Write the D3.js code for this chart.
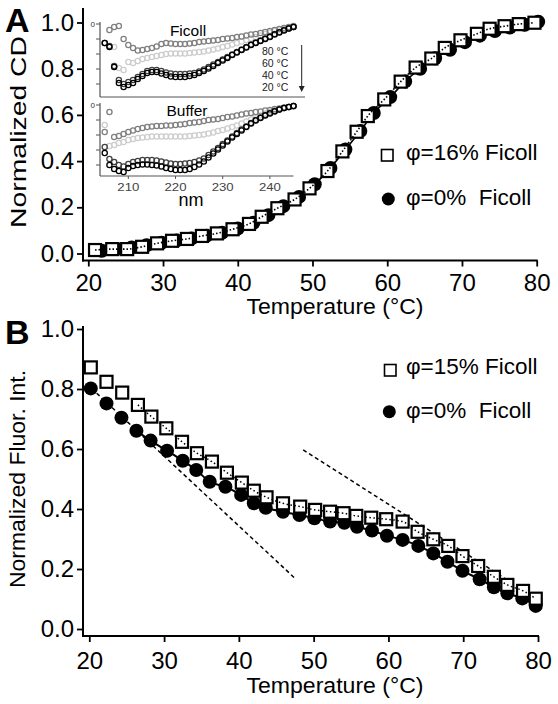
<!DOCTYPE html>
<html><head><meta charset="utf-8">
<script src="https://cdn.jsdelivr.net/npm/d3@7"></script>
<style>
body{margin:0;background:#fff;}
svg text{font-family:"Liberation Sans",Arial,Helvetica,sans-serif;}
</style></head><body>
<svg id="c" width="558" height="704"></svg>
<script>
// ---------------- DATA ----------------
// Panel A: normalized CD vs temperature
const A_T_sq = [20.9,23.2,25.2,27.2,29.2,31.2,33.2,35.2,37.2,39.3,41.5,43.2,45.3,47.6,49.6,52.0,54.0,55.9,57.4,59.6,61.8,63.8,65.9,67.7,69.8,72.0,73.7,75.7,77.6,79.7];
const A_sq   = [0.015,0.019,0.019,0.029,0.044,0.055,0.063,0.076,0.087,0.105,0.128,0.159,0.196,0.234,0.282,0.357,0.442,0.527,0.595,0.667,0.744,0.805,0.844,0.890,0.923,0.951,0.973,0.984,0.993,0.999];
const A_T_ci = [21.8,23.8,25.8,27.8,29.8,31.8,33.8,35.8,37.9,40.0,42.1,44.1,46.1,48.2,50.3,52.4,54.4,56.4,58.2,60.4,62.4,64.4,66.4,68.4,70.4,72.4,74.4,76.4,78.4,80.2];
const A_ci   = [0.012,0.020,0.026,0.036,0.046,0.056,0.065,0.077,0.090,0.108,0.133,0.166,0.205,0.245,0.300,0.370,0.450,0.530,0.608,0.677,0.745,0.800,0.845,0.882,0.915,0.943,0.963,0.978,0.990,1.003];
const A_legend = ["\u03c6=16% Ficoll", "\u03c6=0%  Ficoll"];

// Panel B: normalized fluorescence intensity vs temperature
const B_T_sq = [20.2,22.3,24.4,26.5,28.3,30.3,32.4,34.4,36.4,38.4,40.4,42.0,43.7,45.9,48.2,50.2,52.2,54.0,55.7,57.7,59.7,61.9,63.9,66.0,68.0,69.9,72.0,74.1,75.9,78.0,79.7];
const B_sq   = [0.872,0.824,0.788,0.747,0.708,0.669,0.624,0.586,0.558,0.521,0.488,0.461,0.439,0.419,0.408,0.397,0.391,0.386,0.377,0.371,0.366,0.358,0.324,0.299,0.277,0.243,0.210,0.174,0.147,0.127,0.101];
const B_T_ci = [20.2,22.3,24.3,26.3,28.2,30.4,32.5,34.3,36.1,38.2,40.3,42.0,43.6,45.9,48.1,50.1,52.2,54.1,55.8,57.8,59.8,61.9,64.0,66.0,67.9,69.9,72.2,74.1,75.9,77.9,79.7];
const B_ci   = [0.802,0.752,0.704,0.661,0.628,0.594,0.561,0.530,0.491,0.474,0.447,0.419,0.404,0.391,0.380,0.369,0.358,0.354,0.341,0.328,0.311,0.297,0.277,0.252,0.224,0.194,0.166,0.139,0.119,0.102,0.077];
const B_lowFit  = [[20.3,0.802],[47.5,0.169]];
const B_highFit = [[48.6,0.597],[77.0,0.146]];
const B_legend = ["\u03c6=15% Ficoll", "\u03c6=0%  Ficoll"];

const tempTicks = [20,30,40,50,60,70,80];
const normTicks = [0.0,0.2,0.4,0.6,0.8,1.0];

// Inset: CD spectra (arbitrary units, 0 at top)
const nm = [205,206,207,208,209,210,211,212,213,214,215,216,217,218,219,220,221,222,223,224,225,226,227,228,229,230,231,232,233,234,235,236,237,238,239,240,241,242,243,244,245];
const insetTemps = ["80 \u00b0C","60 \u00b0C","40 \u00b0C","20 \u00b0C"];
const F80 = [null,-6,-3,-2,-15,-21,-24,-26.5,-26,-25,-24,-22.5,-20,-19,-19.5,-20,-20,-20,-19.5,-19,-18,-17.5,-17,-16.5,-16,-15,-14.5,-14,-13,-12.5,-11.5,-10.5,-10,-9,-8,-7,-6,-5,-4,-3,-2];
const F60 = [null,null,-23,-44,-46,-38,-39,-37,-35,-34,-33,-32,-31,-30,-29.5,-29.5,-29.5,-29.5,-29,-28.5,-28,-27.5,-26.5,-25.5,-24.5,-23,-22,-20.5,-19,-17.5,-16,-14.5,-13,-11.5,-10,-8.5,-7,-5.5,-4.5,-3.5,-3];
const F40 = [-19,-22,-42,-56,-60,-58,-56,-53,-50,-47,-46,-46,-47,-48.5,-49.5,-50,-50,-50,-49.5,-49,-47.5,-45.5,-43,-40.5,-38,-35.5,-33,-30.5,-28,-25.5,-23,-20.5,-18.5,-16.5,-14.5,-12.5,-10,-8,-6,-4.5,-3];
const F20 = [-19,-23,-43,-59,-63,-61,-59,-55,-52,-49,-48,-48,-49.5,-51,-52.5,-53,-53,-53,-52,-51,-49,-47,-44.5,-42,-39,-36.5,-34,-31,-28.5,-26,-23.5,-21,-19,-17,-15,-13,-10.5,-8.5,-6.5,-4.5,-3];
const Bu80 = [-27,-7,-32,-31,-29,-27,-25.5,-24,-23,-22,-21.5,-21,-21,-20.5,-20.5,-20,-19.5,-19,-18,-17.5,-17,-16,-15,-14.5,-14,-13,-12,-11.5,-10.5,-9.5,-8.5,-8,-7,-6.5,-5.5,-5,-4,-3.5,-2.5,-2,-1];
const Bu60 = [-20,-41,-40,-38,-37,-35,-34,-33,-32.5,-32,-31.5,-31.5,-31.5,-31.5,-31.5,-31.5,-31.5,-31.5,-31,-30.5,-30,-29.5,-28.5,-27.5,-26,-25,-23.5,-22,-20.5,-18.5,-16.5,-14.5,-12.5,-10.5,-8.5,-6.5,-5,-4,-3,-2,-1.5];
const Bu40 = [-42,-54,-57,-60,-61.5,-59,-57,-56,-55,-55,-55,-55.5,-56.5,-57.5,-58.5,-59,-59,-58.5,-58,-57,-55.5,-53.5,-50,-46.5,-43,-39,-35.5,-31.5,-28,-24.5,-21.5,-18,-15,-12.5,-10,-8,-6,-4.5,-3,-2,-1];
const Bu20 = [-48,-60,-64,-66,-67,-63,-61,-60,-59.5,-59.5,-60,-60.5,-61.5,-63,-64,-65,-65,-65,-64,-62,-59.5,-56.5,-52.5,-48.5,-44.5,-40.5,-36.5,-32.5,-29,-25.5,-22,-18.5,-15.5,-13,-10.5,-8.5,-6.5,-4.5,-3,-2,-1];
const insetXTicks = [210,220,230,240];
const insetYTicks = [0,-15,-30,-45,-60];

// ---------------- DRAW ----------------
const svg = d3.select("#c");
const FONT_TICK = 24;
const SQ = 12, CR = 7;

function pairs(xs, ys){ return xs.map((x,i)=>[x, ys[i]]); }

function panel(opt){
  const g = svg.append("g");
  const x = d3.scaleLinear([20,80], opt.xr);
  const y = d3.scaleLinear([0,1], opt.yr);
  const ya = d3.axisLeft(y).tickValues(normTicks).tickSize(6).tickPadding(3).tickFormat(d3.format(".1f"));
  const yg = g.append("g").attr("transform",`translate(${opt.ax},0)`).call(ya);
  const xa = d3.axisBottom(x).tickValues(tempTicks).tickSize(6).tickPadding(opt.xpad).tickFormat(d3.format("d"));
  const xg = g.append("g").attr("transform",`translate(0,${opt.ay})`).call(xa);
  [yg,xg].forEach(a=>{
    a.select(".domain").remove();
    a.selectAll("line").attr("stroke","#000").attr("stroke-width",1.8);
    a.selectAll("text").attr("font-size",FONT_TICK).attr("fill","#000");
    a.attr("font-family",null);
  });
  g.append("line").attr("x1",opt.ax).attr("x2",opt.ax).attr("y1",opt.ytop).attr("y2",opt.ay+1)
    .attr("stroke","#000").attr("stroke-width",2);
  g.append("line").attr("x1",opt.ax-1).attr("x2",x(80)+1).attr("y1",opt.ay).attr("y2",opt.ay)
    .attr("stroke","#000").attr("stroke-width",2);
  g.append("text").attr("transform",`translate(${opt.ytx},${opt.yty}) rotate(-90)`)
    .attr("text-anchor","middle").attr("font-size",opt.ytfs)
    .attr("textLength",opt.ytlen).attr("lengthAdjust","spacingAndGlyphs")
    .text(opt.ytitle);
  g.append("text").attr("x",opt.xtx).attr("y",opt.xty).attr("text-anchor","middle")
    .attr("font-size",22.5).attr("textLength",177).attr("lengthAdjust","spacingAndGlyphs")
    .text("Temperature (\u00b0C)");
  g.append("text").attr("x",5).attr("y",opt.lety).attr("font-size",34).attr("font-weight","bold").text(opt.letter);
  return {g,x,y};
}

function markers(g,x,y,ci){
  g.append("g").selectAll("circle").data(ci).join("circle")
    .attr("cx",d=>x(d[0])).attr("cy",d=>y(d[1])).attr("r",CR).attr("fill","#000");
}
function squares(g,x,y,sq){
  g.append("g").selectAll("rect").data(sq).join("rect")
    .attr("x",d=>x(d[0])-SQ/2).attr("y",d=>y(d[1])-SQ/2).attr("width",SQ).attr("height",SQ)
    .attr("fill","#fff").attr("stroke","#000").attr("stroke-width",2.2);
}

// ---- Panel A ----
const PA = panel({xr:[88.3,536.7], yr:[253.5,22.5], ax:83, ay:260.5, ytop:8, xpad:7,
  ytx:26, yty:132, ytfs:22, ytlen:192, ytitle:"Normalized CD",
  xtx:335, xty:314, letter:"A", lety:32});
{
  const {g,x,y} = PA;
  const ln = d3.line().x(d=>x(d[0])).y(d=>y(d[1])).curve(d3.curveMonotoneX);
  const ci = pairs(A_T_ci, A_ci), sq = pairs(A_T_sq, A_sq);
  markers(g,x,y,ci);
  g.append("path").datum(ci).attr("d",ln).attr("fill","none").attr("stroke","#000").attr("stroke-width",1.6);
  squares(g,x,y,sq);
  g.append("path").datum(sq).attr("d",ln).attr("fill","none").attr("stroke","#000")
    .attr("stroke-width",1.6).attr("stroke-dasharray","1.5,2");
  g.append("rect").attr("x",381.5).attr("y",149.5).attr("width",11.5).attr("height",11.5)
    .attr("fill","#fff").attr("stroke","#000").attr("stroke-width",1.6);
  g.append("circle").attr("cx",388.3).attr("cy",199).attr("r",6.5).attr("fill","#000");
  g.append("text").attr("x",406).attr("y",160).attr("font-size",22.5).text(A_legend[0]);
  g.append("text").attr("x",406).attr("y",205).attr("font-size",22.5).style("white-space","pre").text(A_legend[1]);
}

// ---- Inset ----
{
  const g = svg.append("g");
  const xi = d3.scaleLinear([204,245],[100,293.5]);
  const yF = d3.scaleLinear([-73,0],[97,24]);
  const yBu = d3.scaleLinear([-71,0],[176,105]);
  const axCol = "#555";
  g.append("line").attr("x1",xi(204)).attr("x2",xi(204)).attr("y1",yF(0)-2).attr("y2",yF(-73)).attr("stroke",axCol).attr("stroke-width",1.2);
  g.append("line").attr("x1",xi(204)).attr("x2",305).attr("y1",yF(-73)).attr("y2",yF(-73)).attr("stroke",axCol).attr("stroke-width",1.2);
  g.append("line").attr("x1",xi(204)).attr("x2",xi(204)).attr("y1",yBu(0)-2).attr("y2",yBu(-71)).attr("stroke",axCol).attr("stroke-width",1.2);
  g.append("line").attr("x1",xi(204)).attr("x2",xi(245)).attr("y1",yBu(-71)).attr("y2",yBu(-71)).attr("stroke",axCol).attr("stroke-width",1.2);
  [yF,yBu].forEach(ys=>{
    g.append("g").selectAll("line").data(insetYTicks).join("line")
      .attr("x1",xi(204)-4).attr("x2",xi(204)).attr("y1",d=>ys(d)).attr("y2",d=>ys(d))
      .attr("stroke",axCol).attr("stroke-width",1);
    g.append("text").attr("x",xi(204)-5).attr("y",ys(0)+3).attr("text-anchor","end")
      .attr("font-size",8).attr("fill","#333").text("0");
  });
  g.append("g").selectAll("line").data(insetXTicks).join("line")
    .attr("x1",d=>xi(d)).attr("x2",d=>xi(d)).attr("y1",yBu(-71)).attr("y2",yBu(-71)+3)
    .attr("stroke",axCol).attr("stroke-width",1);
  g.append("g").selectAll("text").data(insetXTicks).join("text")
    .attr("x",d=>xi(d)).attr("y",191).attr("text-anchor","middle").attr("font-size",10)
    .attr("textLength",22).attr("lengthAdjust","spacingAndGlyphs").attr("fill","#444").text(d=>d);
  g.append("text").attr("x",191).attr("y",206).attr("text-anchor","middle").attr("font-size",18).text("nm");
  g.append("text").attr("x",188).attr("y",36).attr("text-anchor","middle").attr("font-size",15.5).text("Ficoll");
  g.append("text").attr("x",187).attr("y",116).attr("text-anchor","middle").attr("font-size",15.5).text("Buffer");
  g.append("g").selectAll("text").data(insetTemps).join("text")
    .attr("x",262).attr("y",(d,i)=>55+i*12).attr("font-size",10.5).attr("fill","#222").text(d=>d);
  g.append("line").attr("x1",301.7).attr("x2",301.7).attr("y1",45).attr("y2",88).attr("stroke","#222").attr("stroke-width",1);
  g.append("path").attr("d","M298.7,86 L304.7,86 L301.7,92 Z").attr("fill","#222");
  const cols = ["#808080","#cdcdcd","#404040","#000"];
  const order = [1,0,2,3];
  const sets = [[F80,F60,F40,F20,yF],[Bu80,Bu60,Bu40,Bu20,yBu]];
  sets.forEach(s=>{
    const ys = s[4];
    order.forEach(k=>{
      const pts = nm.map((w,i)=>[w, s[k][i]]).filter(d=>d[1]!==null);
      g.append("g").selectAll("circle").data(pts).join("circle")
        .attr("cx",d=>xi(d[0])).attr("cy",d=>ys(d[1])).attr("r",2.6)
        .attr("fill","none").attr("stroke",cols[k]).attr("stroke-width",1.3);
    });
  });
}

// ---- Panel B ----
const PB = panel({xr:[89.3,538], yr:[629,329], ax:83, ay:636, ytop:326, xpad:10,
  ytx:25, yty:479, ytfs:22, ytlen:218, ytitle:"Normalized Fluor. Int.",
  xtx:335, xty:693, letter:"B", lety:344});
{
  const {g,x,y} = PB;
  const ln = d3.line().x(d=>x(d[0])).y(d=>y(d[1])).curve(d3.curveMonotoneX);
  const lin = d3.line().x(d=>x(d[0])).y(d=>y(d[1]));
  const ci = pairs(B_T_ci, B_ci), sq = pairs(B_T_sq, B_sq);
  [B_lowFit,B_highFit].forEach(f=>{
    g.append("path").datum(f).attr("d",lin)
      .attr("stroke","#000").attr("stroke-width",1.5).attr("stroke-dasharray","4,3").attr("fill","none");
  });
  g.append("path").datum(ci.slice(3)).attr("d",ln).attr("fill","none").attr("stroke","#000").attr("stroke-width",2);
  markers(g,x,y,ci);
  squares(g,x,y,sq);
  g.append("path").datum(sq.slice(3)).attr("d",ln).attr("fill","none").attr("stroke","#000")
    .attr("stroke-width",1.5).attr("stroke-dasharray","1.5,2.5");
  g.append("rect").attr("x",384.5).attr("y",364.5).attr("width",11.5).attr("height",11.5)
    .attr("fill","#fff").attr("stroke","#000").attr("stroke-width",1.6);
  g.append("circle").attr("cx",389.3).attr("cy",411.7).attr("r",6.5).attr("fill","#000");
  g.append("text").attr("x",406).attr("y",374).attr("font-size",22.5).text(B_legend[0]);
  g.append("text").attr("x",406).attr("y",418).attr("font-size",22.5).style("white-space","pre").text(B_legend[1]);
}
</script></body></html>
